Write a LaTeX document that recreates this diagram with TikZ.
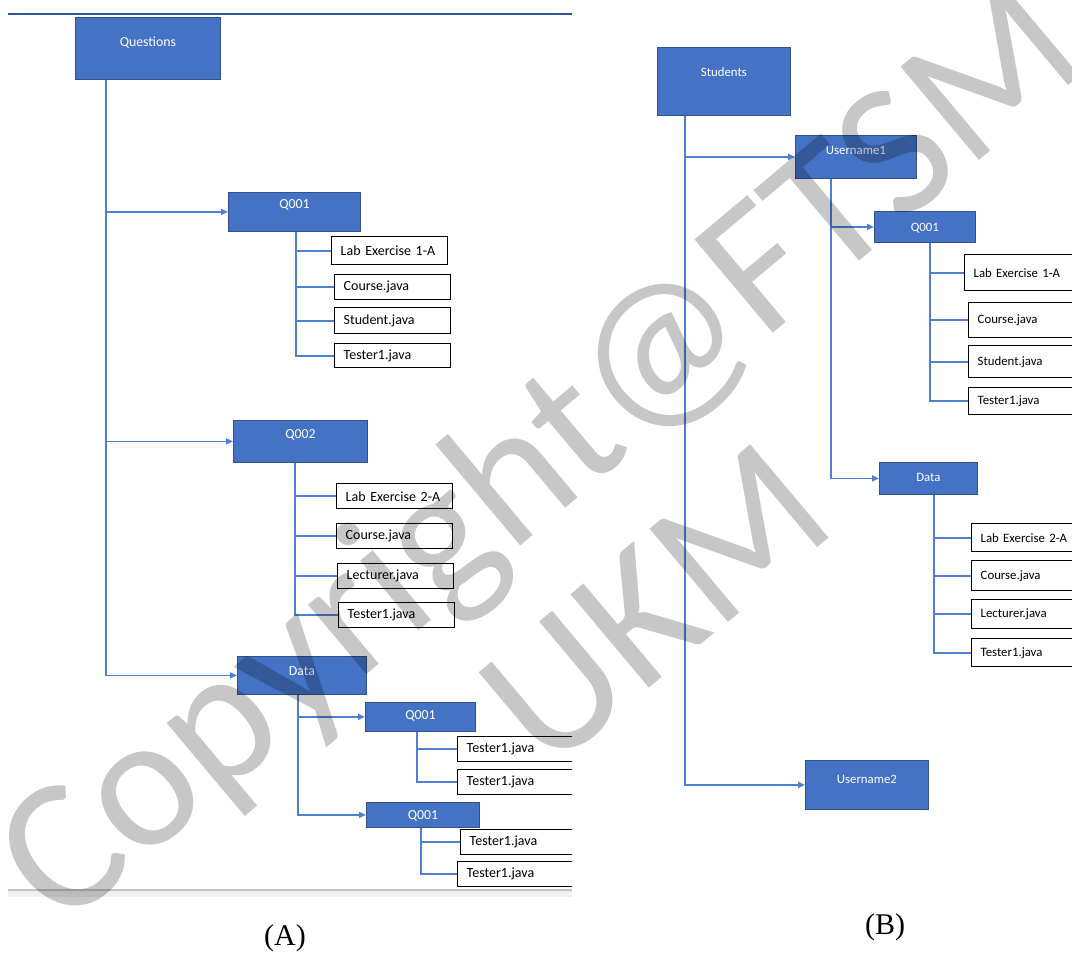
\documentclass[tikz,border=0pt]{standalone}
\usepackage{fontspec}
\setmainfont{Liberation Serif}
\newfontfamily\calibri{Carlito}
\usetikzlibrary{arrows.meta}
\definecolor{boxblue}{HTML}{4472C4}
\definecolor{boxedge}{HTML}{2F528F}
\definecolor{linkblue}{HTML}{4F7FD0}
\definecolor{topblue}{HTML}{2F5597}
\definecolor{rulegray}{HTML}{C4C4C4}
\definecolor{bandgray}{HTML}{F0F0F0}

\begin{document}
\begin{tikzpicture}[
    x=0.5pt, y=-0.5pt,
    folder/.style={draw=boxedge, line width=0.4pt, fill=boxblue, text=white, inner sep=0pt, anchor=north west, font=\calibri\fontsize{6.9}{8}\selectfont},
    rfolder/.style={folder, font=\calibri\fontsize{6.4}{8}\selectfont},
    file/.style={draw=black, line width=0.7pt, fill=white, inner ysep=0pt, inner xsep=4.5pt, text width=49pt, align=left, anchor=north west, font=\calibri\fontsize{7}{8}\selectfont},
    rfile/.style={file, text width=51pt, font=\calibri\fontsize{6.4}{8}\selectfont},
    link/.style={draw=linkblue, line width=0.8pt},
    arr/.style={link, -{Triangle[length=3.5pt,width=3pt]}},
    wmark/.style={font=\calibri\fontsize{95}{95}\selectfont, text=black, text opacity=0.22, rotate=40, inner sep=0pt},
]
\path[use as bounding box, clip] (0,0) rectangle (1072,954);

\begin{scope}
\clip (0,0) rectangle (572,954);
\draw[topblue, line width=1.2pt] (8,14) -- (572,14);
\fill[bandgray] (8,890) rectangle (572,897);
\draw[rulegray, line width=0.6pt] (8,890) -- (572,890);

\node[folder, minimum width=72.5pt, text height=14.5pt, text depth=16.5pt] (qs) at (75,17) {Questions};
\node[folder, minimum width=66pt, text height=8pt, text depth=11.5pt] (qa) at (228,192) {Q001};
\node[folder, minimum width=67pt, text height=9pt, text depth=12pt] (qb) at (233,420) {Q002};
\node[folder, minimum width=64.5pt, text height=9.5pt, text depth=9.5pt] (da) at (237,656) {Data};
\node[folder, minimum width=55pt, text height=8.5pt, text depth=6pt] (dqa) at (365,702) {Q001};
\node[folder, minimum width=56.5pt, text height=8.5pt, text depth=4pt] (dqb) at (366,802) {Q001};

\node[file, minimum height=14pt] (fa1) at (331,236) {Lab Exercise 1-A};
\node[file, minimum height=12.5pt] (fa2) at (334,274) {Course.java};
\node[file, minimum height=13pt] (fa3) at (334,307) {Student.java};
\node[file, minimum height=12pt] (fa4) at (334,343) {Tester1.java};

\node[file, minimum height=12.5pt] (fb1) at (336,483) {Lab Exercise 2-A};
\node[file, minimum height=12.5pt] (fb2) at (336,523) {Course.java};
\node[file, minimum height=12.5pt] (fb3) at (337,563) {Lecturer.java};
\node[file, minimum height=12.5pt] (fb4) at (338,602) {Tester1.java};

\node[file, minimum height=12.5pt] (fc1) at (457,736) {Tester1.java};
\node[file, minimum height=12.5pt] (fc2) at (457,769) {Tester1.java};
\node[file, minimum height=12.5pt] (fd1) at (460,829) {Tester1.java};
\node[file, minimum height=12.5pt] (fd2) at (457,861) {Tester1.java};

\draw[arr] (qs.south west) ++(31,0) |- (qa);
\draw[arr] (qs.south west) ++(31,0) |- (qb);
\draw[arr] (qs.south west) ++(31,0) |- (da);
\foreach \f in {fa1,fa2,fa3,fa4}
  \draw[link] (qa.south west) ++(68,0) |- (\f);
\foreach \f in {fb1,fb2,fb3,fb4}
  \draw[link] (qb.south west) ++(62,0) |- (\f);
\draw[arr] (da.south west) ++(61,0) |- (dqa);
\draw[arr] (da.south west) ++(61,0) |- (dqb);
\foreach \f in {fc1,fc2}
  \draw[link] (dqa.south west) ++(52,0) |- (\f);
\foreach \f in {fd1,fd2}
  \draw[link] (dqb.south west) ++(55,0) |- (\f);
\end{scope}

\node[rfolder, minimum width=66.5pt, text height=14.5pt, text depth=19.5pt] (st) at (657,47) {Students};
\node[rfolder, minimum width=60.5pt, text height=9.5pt, text depth=12pt] (ua) at (795,135) {Username1};
\node[rfolder, minimum width=50.5pt, text height=10pt, text depth=5.5pt] (rq) at (874,211) {Q001};
\node[rfolder, minimum width=49pt, text height=9.5pt, text depth=6.5pt] (rd) at (879,462) {Data};
\node[rfolder, minimum width=61.5pt, text height=11.5pt, text depth=13pt] (ub) at (805,760) {Username2};

\node[rfile, minimum height=18pt] (ga1) at (964,254) {Lab Exercise 1-A};
\node[rfile, minimum height=17.5pt] (ga2) at (968,302) {Course.java};
\node[rfile, minimum height=16pt] (ga3) at (968,345) {Student.java};
\node[rfile, minimum height=13.5pt] (ga4) at (968,387) {Tester1.java};

\node[rfile, minimum height=14pt] (gb1) at (971,523) {Lab Exercise 2-A};
\node[rfile, minimum height=15pt] (gb2) at (971,560) {Course.java};
\node[rfile, minimum height=14.5pt] (gb3) at (971,599) {Lecturer.java};
\node[rfile, minimum height=14pt] (gb4) at (971,638) {Tester1.java};

\draw[arr] (st.south west) ++(28,0) |- (ua);
\draw[arr] (st.south west) ++(28,0) |- (ub);
\draw[arr] (ua.south west) ++(36,0) |- (rq);
\draw[arr] (ua.south west) ++(36,0) |- (rd);
\foreach \f in {ga1,ga2,ga3,ga4}
  \draw[link] (rq.south west) ++(56,0) |- (\f);
\foreach \f in {gb1,gb2,gb3,gb4}
  \draw[link] (rd.south west) ++(55,0) |- (\f);

\node[font=\fontsize{15}{15}\selectfont] (capa) at (285,938) {(A)};
\node[font=\fontsize{15}{15}\selectfont] (capb) at (885,927) {(B)};

\node[wmark] (wma) at (545,460) {Copyright@FTSM};
\node[wmark] (wmb) at (655,605) {UKM};

\end{tikzpicture}
\end{document}
